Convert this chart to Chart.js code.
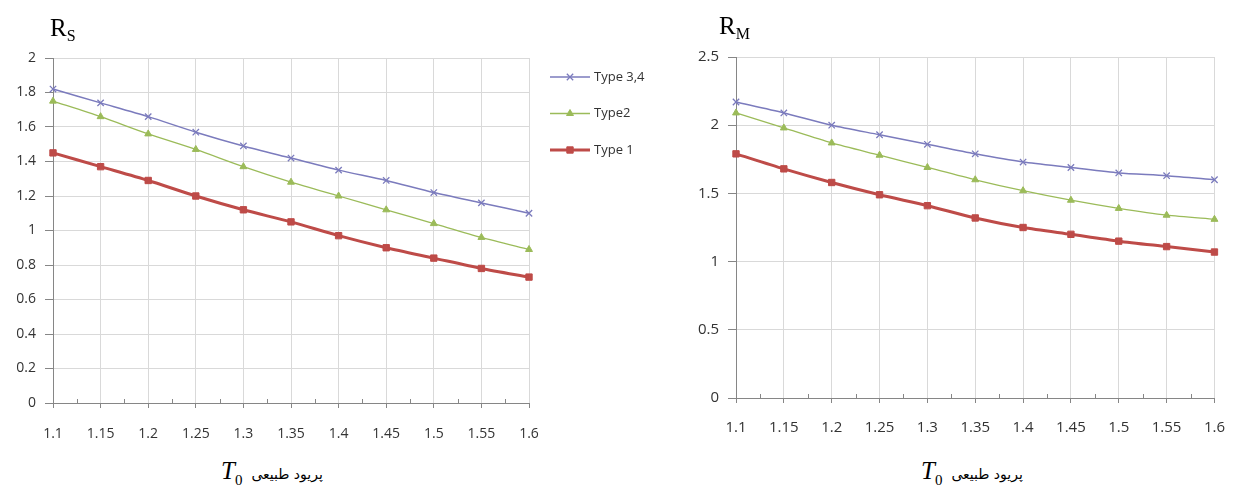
<!DOCTYPE html>
<html>
<head>
<meta charset="utf-8">
<script src="https://cdn.jsdelivr.net/npm/chart.js@4"></script>
<style>
  body { margin: 0; background: #fff; width: 1241px; height: 490px; overflow: hidden; position: relative; }
  canvas { position: absolute; top: 0; }
  .ytitle { position: absolute; font-family: "Liberation Serif", serif; font-size: 25px; color: #000; }
  .ytitle sub { font-size: 16px; vertical-align: -5px; }
  .xtitle { position: absolute; top: 457px; white-space: nowrap; color: #000; }
  .xtitle .t { font-family: "Liberation Serif", serif; font-style: italic; font-size: 25px; }
  .xtitle .t sub { font-style: normal; font-size: 15px; vertical-align: -6px; }
  .xtitle .fa { font-family: "DejaVu Sans", sans-serif; font-size: 14px; margin-left: 9px; }
</style>
</head>
<body>
<canvas id="chartS" width="660" height="450" style="left:0px"></canvas>
<canvas id="chartM" width="621" height="445" style="left:620px"></canvas>

<div class="ytitle" style="left:50px; top:14px">R<sub>S</sub></div>
<div class="ytitle" style="left:719px; top:12px">R<sub>M</sub></div>
<div class="xtitle" style="left:221px"><span class="t">T<sub>0</sub></span><span class="fa">پریود طبیعی</span></div>
<div class="xtitle" style="left:921px"><span class="t">T<sub>0</sub></span><span class="fa">پریود طبیعی</span></div>

<script>
// Natural period (x categories)
var periods = ['1.1', '1.15', '1.2', '1.25', '1.3', '1.35', '1.4', '1.45', '1.5', '1.55', '1.6'];

// R_S chart
var rsType34 = [1.82, 1.74, 1.66, 1.57, 1.49, 1.42, 1.35, 1.29, 1.22, 1.16, 1.10];
var rsType2 = [1.75, 1.66, 1.56, 1.47, 1.37, 1.28, 1.20, 1.12, 1.04, 0.96, 0.89];
var rsType1 = [1.45, 1.37, 1.29, 1.20, 1.12, 1.05, 0.97, 0.90, 0.84, 0.78, 0.73];

// R_M chart
var rmType34 = [2.17, 2.09, 2.00, 1.93, 1.86, 1.79, 1.73, 1.69, 1.65, 1.63, 1.60];
var rmType2 = [2.09, 1.98, 1.87, 1.78, 1.69, 1.60, 1.52, 1.45, 1.39, 1.34, 1.31];
var rmType1 = [1.79, 1.68, 1.58, 1.49, 1.41, 1.32, 1.25, 1.20, 1.15, 1.11, 1.07];

var seriesNames = ['Type 3,4', 'Type2', 'Type 1'];

// Series styles: colour, point style, point radius, line width
var seriesStyles = [
	['#7b7bbd', 'crossRot', 4.5, 1.5],
	['#9bbb59', 'triangle', 4, 1.3],
	['#be4b48', 'rect', 4.5, 3]
];

function makeDatasets(values) {
	return values.map(function (data, i) {
		var s = seriesStyles[i];
		return {
			label: seriesNames[i],
			data: data,
			borderColor: s[0],
			backgroundColor: s[0],
			pointBorderColor: s[0],
			pointBackgroundColor: s[0],
			pointStyle: s[1],
			pointRadius: s[2],
			pointBorderWidth: s[1] == 'crossRot' ? 1.3 : 1,
			borderWidth: s[3],
			tension: 0.25
		};
	});
}

// Minor ticks between categories on the x axis, and the optional legend
var excelBits = {
	id: 'excelBits',
	afterDraw: function (chart, args, opts) {
		var ctx = chart.ctx;
		var x = chart.scales.x;
		var area = chart.chartArea;
		ctx.save();
		ctx.strokeStyle = '#868686';
		ctx.lineWidth = 1;
		for (var i = 0; i < periods.length - 1; i++) {
			var px = Math.round(x.getPixelForValue(i + 0.5)) + 0.5;
			ctx.beginPath();
			ctx.moveTo(px, area.bottom);
			ctx.lineTo(px, area.bottom - 4);
			ctx.stroke();
		}
		if (opts.legend) {
			var lx = area.right + 21;
			chart.data.datasets.forEach(function (ds, i) {
				var ly = area.top + 19 + i * 36.5;
				ctx.strokeStyle = ds.borderColor;
				ctx.lineWidth = ds.borderWidth;
				ctx.beginPath();
				ctx.moveTo(lx, ly);
				ctx.lineTo(lx + 40, ly);
				ctx.stroke();
				ctx.fillStyle = ds.pointBackgroundColor;
				ctx.strokeStyle = ds.pointBorderColor;
				ctx.lineWidth = ds.pointBorderWidth;
				Chart.helpers.drawPoint(ctx, { pointStyle: ds.pointStyle, radius: ds.pointRadius, rotation: 0, borderWidth: ds.pointBorderWidth }, lx + 20, ly);
				ctx.fillStyle = '#333333';
				ctx.font = '13px "Open Sans", sans-serif';
				ctx.textBaseline = 'middle';
				ctx.textAlign = 'left';
				ctx.fillText(ds.label, lx + 44, ly);
			});
		}
		ctx.restore();
	}
};

function createChart(id, values, yMax, yStep, axisWidth, xHeight, padding, fontSize, xPad, legend) {
	return new Chart(document.getElementById(id).getContext('2d'), {
		type: 'line',
		data: {
			labels: periods,
			datasets: makeDatasets(values)
		},
		options: {
			responsive: false,
			animation: false,
			layout: { padding: padding },
			plugins: {
				legend: { display: false },
				tooltip: { enabled: false },
				excelBits: { legend: legend }
			},
			scales: {
				x: {
					offset: false,
					grid: {
						color: '#d9d9d9',
						tickColor: '#868686',
						tickLength: 5,
						drawTicks: true
					},
					border: { color: '#868686' },
					ticks: {
						color: '#333333',
						font: { family: '"Open Sans", sans-serif', size: fontSize },
						padding: xPad,
						maxRotation: 0,
						autoSkip: false
					},
					afterFit: function (scale) { scale.height = xHeight; }
				},
				y: {
					min: 0,
					max: yMax,
					grid: {
						color: '#d9d9d9',
						tickColor: '#868686',
						tickLength: 8
					},
					border: { color: '#868686' },
					ticks: {
						stepSize: yStep,
						color: '#333333',
						font: { family: '"Open Sans", sans-serif', size: fontSize },
						padding: 9,
						callback: function (value) {
							return String(Math.round(value * 10) / 10);
						}
					},
					afterFit: function (scale) { scale.width = axisWidth; }
				}
			}
		},
		plugins: [excelBits]
	});
}

createChart('chartS', [rsType34, rsType2, rsType1], 2, 0.2, 53, 47,
	{ top: 58, right: 131, left: 0, bottom: 0 }, 14, 18, true);

createChart('chartM', [rmType34, rmType2, rmType1], 2.5, 0.5, 116, 47,
	{ top: 57, right: 14, left: 0, bottom: 0 }, 15, 16, false);
</script>
</body>
</html>
